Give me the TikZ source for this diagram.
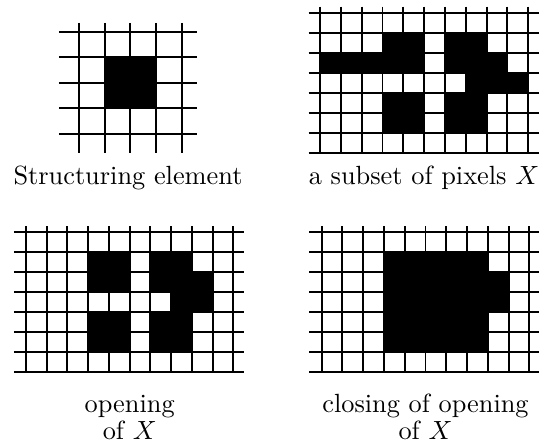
\documentclass[tikz,border=0pt]{standalone}
\usepackage{amsmath, amssymb}
\usepackage{tikz}
\usetikzlibrary{positioning}
\tikzset{
  gridline/.style={line width=0.75pt},
  pixel/.style={fill=black},
  seam/.style={draw=black!75, line width=0.25pt},
}
\begin{document}
\begin{tikzpicture}[x=0.38pt, y=-0.38pt]
    \useasboundingbox (0,0) rectangle (539,442);
    % Structuring element
    \begin{scope}[shift={(79,31.7)}, x={(25.67,0)}, y={(0,25.6)}]
      \fill[pixel] (1,1) rectangle (3,3);
      \foreach \i in {0,...,4} {
        \draw[gridline] (\i,-0.34) -- (\i,4.74);
        \draw[gridline] (-0.78,\i) -- (4.6,\i);
      }
    \end{scope}
    % Subset X
    \begin{scope}[shift={(320,13.3)}, x={(20.83,0)}, y={(0,20)}]
      \foreach \a/\b/\c/\d in {3/1/5/2, 6/1/8/2, 0/2/5/3, 6/2/9/3, 7/3/10/4, 3/4/5/6, 6/4/8/6}
        \fill[pixel] (\a,\b) rectangle (\c,\d);
      \foreach \i in {0,...,10}
        \draw[gridline] (\i,-0.33) -- (\i,7);
      \foreach \j in {0,...,7}
        \draw[gridline] (-0.55,\j) -- (10.55,\j);
    \end{scope}
    % Opening of X
    \begin{scope}[shift={(26,232.2)}, x={(20.73,0)}, y={(0,19.95)}]
      \foreach \a/\b/\c/\d in {3/1/5/3, 6/1/8/3, 8/2/9/3, 7/3/9/4, 3/4/5/6, 6/4/8/6}
        \fill[pixel] (\a,\b) rectangle (\c,\d);
      \foreach \i in {0,...,10}
        \draw[gridline] (\i,-0.31) -- (\i,7);
      \foreach \j in {0,...,7}
        \draw[gridline] (-0.58,\j) -- (10.52,\j);
    \end{scope}
    % Closing of opening of X
    \begin{scope}[shift={(321.7,232.2)}, x={(20.76,0)}, y={(0,19.95)}]
      \fill[pixel] (3,1) rectangle (8,6);
      \fill[pixel] (8,2) rectangle (9,4);
      \draw[seam] (5,1) -- (5,4);
      \draw[seam] (5,4) rectangle (6,6);
      \foreach \i in {0,...,10}
        \draw[gridline] (\i,-0.31) -- (\i,7);
      \foreach \j in {0,...,7}
        \draw[gridline] (-0.61,\j) -- (10.55,\j);
    \end{scope}
    % Captions
    \node[anchor=base, inner sep=0pt] (capse) at (128,185) {Structuring element};
    \node[anchor=base, inner sep=0pt] (capx) at (424,185) {a subset of pixels $X$};
    \node[anchor=south, align=center, inner sep=0pt] (capop) at (129.7,440) {opening\\[-1.7pt] of $X$};
    \node[anchor=south, align=center, inner sep=0pt] (capcl) at (425.5,440) {closing of opening\\[-1.7pt] of $X$};
\end{tikzpicture}
\end{document}
